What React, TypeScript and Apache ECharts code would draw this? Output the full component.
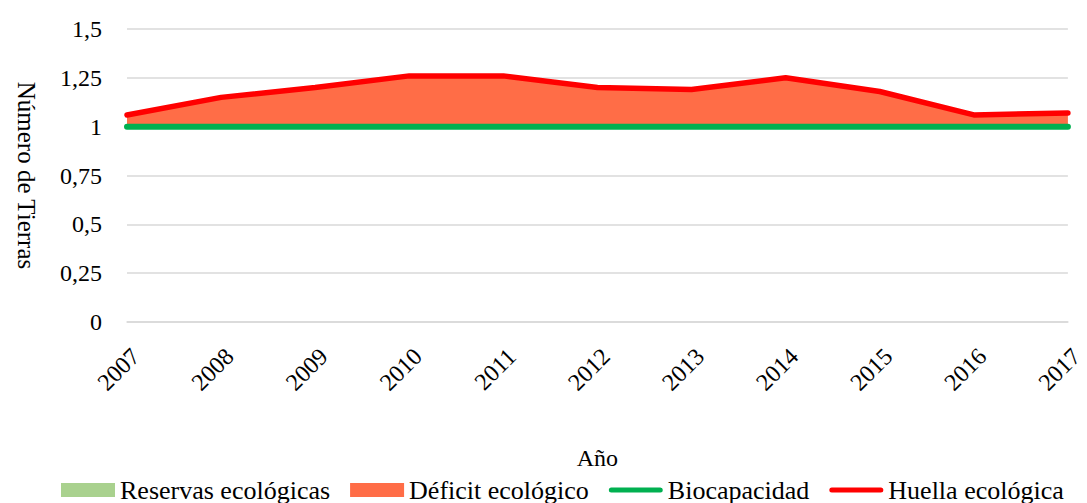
import React, { useEffect, useRef } from "react";
import * as echarts from "echarts";

const years = ["2007", "2008", "2009", "2010", "2011", "2012", "2013", "2014", "2015", "2016", "2017"];
const huella = [1.06, 1.15, 1.2, 1.26, 1.26, 1.2, 1.19, 1.25, 1.18, 1.06, 1.07];
const biocapacidad = [1, 1, 1, 1, 1, 1, 1, 1, 1, 1, 1];
const reservas = [0, 0, 0, 0, 0, 0, 0, 0, 0, 0, 0];
const deficit = huella.map((h, i) => Math.max(0, h - biocapacidad[i]));

const FONT = "Liberation Serif";
const LINE_ICON = "path://M2.5,0 L51.5,0 A2.5,2.5 0 0 1 51.5,5 L2.5,5 A2.5,2.5 0 0 1 2.5,0 Z";

export default function App() {
  const ref = useRef<HTMLDivElement>(null);
  useEffect(() => {
    if (!ref.current) return;
    const chart = echarts.init(ref.current, null, { renderer: "svg" });
    chart.setOption({
      animation: false,
      textStyle: { fontFamily: FONT },
      grid: { left: 127, right: 3, top: 29, bottom: 181, containLabel: false },
      legend: {
        top: 477,
        left: 61,
        padding: 0,
        itemWidth: 54,
        itemHeight: 14,
        itemGap: 20,
        symbolKeepAspect: true,
        textStyle: { fontFamily: FONT, fontSize: 26, color: "#000" },
        data: [
          { name: "Reservas ecológicas", icon: "rect" },
          { name: "Déficit ecológico", icon: "rect" },
          { name: "Biocapacidad", icon: LINE_ICON },
          { name: "Huella ecológica", icon: LINE_ICON },
        ],
      },
      xAxis: {
        type: "category",
        data: years,
        boundaryGap: false,
        name: "Año",
        nameLocation: "middle",
        nameGap: 124,
        nameTextStyle: { fontFamily: FONT, fontSize: 24, color: "#000" },
        axisLine: { lineStyle: { color: "#d9d9d9", width: 1.5 } },
        axisTick: { show: false },
        axisLabel: {
          rotate: 45,
          fontFamily: FONT,
          fontSize: 24,
          color: "#000",
          margin: 22,
          verticalAlign: "top",
        },
      },
      yAxis: {
        type: "value",
        min: 0,
        max: 1.5,
        interval: 0.25,
        name: "Número de Tierras",
        nameLocation: "middle",
        nameRotate: -90,
        nameGap: 88,
        nameTextStyle: { fontFamily: FONT, fontSize: 25, color: "#000" },
        axisLine: { show: false },
        axisTick: { show: false },
        splitLine: { lineStyle: { color: "#d9d9d9", width: 1.5 } },
        axisLabel: {
          fontFamily: FONT,
          fontSize: 24,
          color: "#000",
          margin: 25,
          formatter: (v: number) => String(v).replace(".", ","),
        },
      },
      series: [
        {
          name: "Reservas ecológicas",
          type: "line",
          data: reservas,
          symbol: "none",
          lineStyle: { width: 0 },
          itemStyle: { color: "#A9D18E" },
          areaStyle: { color: "#A9D18E", opacity: 1 },
        },
        {
          name: "Biocapacidad",
          type: "line",
          stack: "eco",
          data: biocapacidad,
          symbol: "none",
          z: 4,
          lineStyle: { width: 6, color: "#00B050", cap: "round" },
          itemStyle: { color: "#00B050" },
        },
        {
          name: "Déficit ecológico",
          type: "line",
          stack: "eco",
          data: deficit,
          symbol: "none",
          z: 2,
          lineStyle: { width: 0 },
          itemStyle: { color: "#FF6D47" },
          areaStyle: { color: "#FF6D47", opacity: 1 },
        },
        {
          name: "Huella ecológica",
          type: "line",
          data: huella,
          symbol: "none",
          z: 5,
          lineStyle: { width: 5.5, color: "#FF0000", cap: "round" },
          itemStyle: { color: "#FF0000" },
        },
      ],
    });
    return () => chart.dispose();
  }, []);
  return <div ref={ref} style={{ width: 1087, height: 503, position: "absolute", left: 0, top: 0 }} />;
}
